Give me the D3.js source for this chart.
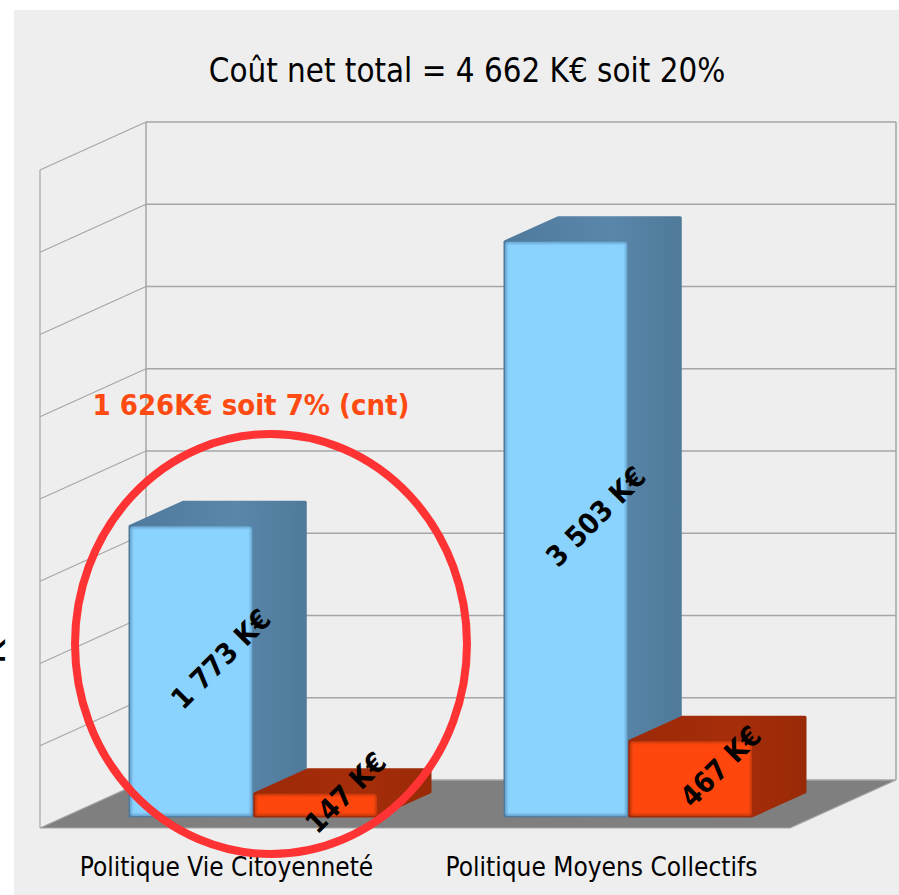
<!DOCTYPE html>
<html>
<head>
<meta charset="utf-8">
<script src="https://cdn.jsdelivr.net/npm/d3@7"></script>
<style>
html, body { margin: 0; padding: 0; background: #fff; }
svg { display: block; }
text { font-family: "DejaVu Sans Condensed", "DejaVu Sans", sans-serif; }
</style>
</head>
<body>
<div id="c"></div>
<script>
"use strict";

const categories = ["Politique Vie Citoyenneté", "Politique Moyens Collectifs"]
const seriesNames = ["brut", "recettes"]
const blueValues = [1773, 3503]
const orangeValues = [147, 467]
const blueLabels = ["1 773 K€", "3 503 K€"]
const orangeLabels = ["147 K€", "467 K€"]
const gridTicks = [0, 500, 1000, 1500, 2000, 2500, 3000, 3500, 4000]

const titleText = "Coût net total = 4 662 K€ soit 20%"
const noteText = "1 626K€ soit 7% (cnt)"
const clippedAxisText = "K"

const width = 899, height = 895

// oblique offset of the left wall and of the bar depth
const wall = {dx: -106, dy: 48}
const depth = {dx: 53, dy: -24}

const svg = d3.select("#c").append("svg")
    .attr("width", width)
    .attr("height", height)

const defs = svg.append("defs")
const blueSide = defs.append("linearGradient").attr("id", "blueSide")
    .attr("x1", 0).attr("y1", 0).attr("x2", 1).attr("y2", 0)
blueSide.append("stop").attr("offset", "0%").attr("stop-color", "#4f7a9c")
blueSide.append("stop").attr("offset", "60%").attr("stop-color", "#5a86aa")
blueSide.append("stop").attr("offset", "100%").attr("stop-color", "#4f7a9a")
const orangeSide = defs.append("linearGradient").attr("id", "orangeSide")
    .attr("x1", 0).attr("y1", 0).attr("x2", 1).attr("y2", 0)
orangeSide.append("stop").attr("offset", "0%").attr("stop-color", "#9c2a08")
orangeSide.append("stop").attr("offset", "60%").attr("stop-color", "#a62d0a")
orangeSide.append("stop").attr("offset", "100%").attr("stop-color", "#992a07")
defs.append("filter").attr("id", "soft")
    .append("feGaussianBlur").attr("stdDeviation", 1)

// panel
svg.append("rect")
    .attr("x", 14).attr("y", 10)
    .attr("width", width - 14).attr("height", height - 10)
    .attr("fill", "#eeeeee")

const yScale = d3.scaleLinear().domain([0, 4000]).range([780, 122])
const xScale = d3.scaleBand().domain(categories).range([66, 816])
const barScale = d3.scaleBand().domain(seriesNames).range([64, 311]).paddingInner(0.02)

const left = 146, right = 896
// bars stand on the floor, in front of the back wall
const topShift = 38, baseY = 816

// floor
svg.append("polygon")
    .attr("points", [
        [left, yScale(0)], [right, yScale(0)],
        [right + wall.dx, yScale(0) + wall.dy], [left + wall.dx, yScale(0) + wall.dy]
    ].join(" "))
    .attr("fill", "#7f7f7f")

// gridlines on back wall and left wall
const grid = svg.append("g").attr("stroke", "#a6a6a6").attr("fill", "none")
gridTicks.forEach(t => {
    const y = yScale(t)
    grid.append("line").attr("x1", left).attr("x2", right).attr("y1", y).attr("y2", y)
        .attr("stroke-width", 1.5)
    grid.append("line").attr("x1", left).attr("x2", left + wall.dx)
        .attr("y1", y).attr("y2", y + wall.dy).attr("stroke-width", 1.2)
})
grid.append("line").attr("x1", left).attr("x2", left)
    .attr("y1", yScale(4000)).attr("y2", yScale(0)).attr("stroke-width", 1.5)
grid.append("line").attr("x1", right).attr("x2", right)
    .attr("y1", yScale(4000)).attr("y2", yScale(0)).attr("stroke-width", 1.5)
grid.append("line").attr("x1", left + wall.dx).attr("x2", left + wall.dx)
    .attr("y1", yScale(4000) + wall.dy).attr("y2", yScale(0) + wall.dy).attr("stroke-width", 1.2)
grid.append("line").attr("x1", left + wall.dx).attr("x2", right + wall.dx)
    .attr("y1", yScale(0) + wall.dy).attr("y2", yScale(0) + wall.dy).attr("stroke-width", 1.2)
grid.append("line").attr("x1", right).attr("x2", right + wall.dx)
    .attr("y1", yScale(0)).attr("y2", yScale(0) + wall.dy).attr("stroke-width", 1.2)

function drawBar(cat, series, value, front, edge, side, label) {
    const x = xScale(cat) + barScale(series)
    const w = barScale.bandwidth()
    const y0 = baseY
    const y1 = yScale(value) + topShift
    const g = svg.append("g")

    g.append("polygon")
        .attr("points", [
            [x, y1], [x + depth.dx, y1 + depth.dy], [x + w + depth.dx, y1 + depth.dy],
            [x + w + depth.dx, y0 + depth.dy], [x + w, y0], [x, y0]
        ].join(" "))
        .attr("fill", `url(#${side})`)
        .attr("stroke", `url(#${side})`)
        .attr("stroke-width", 3)
        .attr("stroke-linejoin", "round")

    g.append("rect")
        .attr("x", x).attr("y", y1)
        .attr("width", w).attr("height", y0 - y1)
        .attr("rx", 3)
        .attr("fill", edge)
    g.append("rect")
        .attr("x", x + 2).attr("y", y1 + 2)
        .attr("width", w - 4).attr("height", y0 - y1 - 4)
        .attr("fill", front)
        .attr("filter", "url(#soft)")
    return {x: x + w / 2 + 30, y: (y0 + y1) / 2 - 12, label}
}

const barLabels = []
categories.forEach((cat, i) => {
    barLabels.push(drawBar(cat, seriesNames[0], blueValues[i], "#8bd3ff", "#6aa7d2", "blueSide", blueLabels[i]))
    barLabels.push(drawBar(cat, seriesNames[1], orangeValues[i], "#ff470d", "#c93a0c", "orangeSide", orangeLabels[i]))
})

barLabels.forEach(d => {
    svg.append("text")
        .attr("transform", "translate(" + d.x + "," + d.y + ") rotate(-45)")
        .attr("text-anchor", "middle")
        .attr("dominant-baseline", "central")
        .attr("font-size", 28.5)
        .attr("font-weight", "bold")
        .attr("fill", "#000")
        .text(d.label)
})

// category labels
categories.forEach(cat => {
    svg.append("text")
        .attr("x", xScale(cat) + xScale.bandwidth() / 2 - 27)
        .attr("y", 876)
        .attr("text-anchor", "middle")
        .attr("font-size", 26)
        .attr("fill", "#000")
        .text(cat)
})

svg.append("text")
    .attr("x", 467).attr("y", 82)
    .attr("text-anchor", "middle")
    .attr("font-size", 32.8)
    .attr("fill", "#000")
    .text(titleText)

svg.append("text")
    .attr("x", 251).attr("y", 415)
    .attr("text-anchor", "middle")
    .attr("font-size", 29)
    .attr("font-weight", "bold")
    .attr("fill", "#ff4a12")
    .text(noteText)

// axis title cut by the left edge of the picture
svg.append("text")
    .attr("transform", "translate(5,652) rotate(-90)")
    .attr("text-anchor", "middle")
    .attr("font-size", 42)
    .attr("fill", "#000")
    .text(clippedAxisText)

// hand drawn circle around the first group
svg.append("ellipse")
    .attr("cx", 271).attr("cy", 644)
    .attr("rx", 196).attr("ry", 210)
    .attr("fill", "none")
    .attr("stroke", "#ff3333")
    .attr("stroke-width", 8)
</script>
</body>
</html>
